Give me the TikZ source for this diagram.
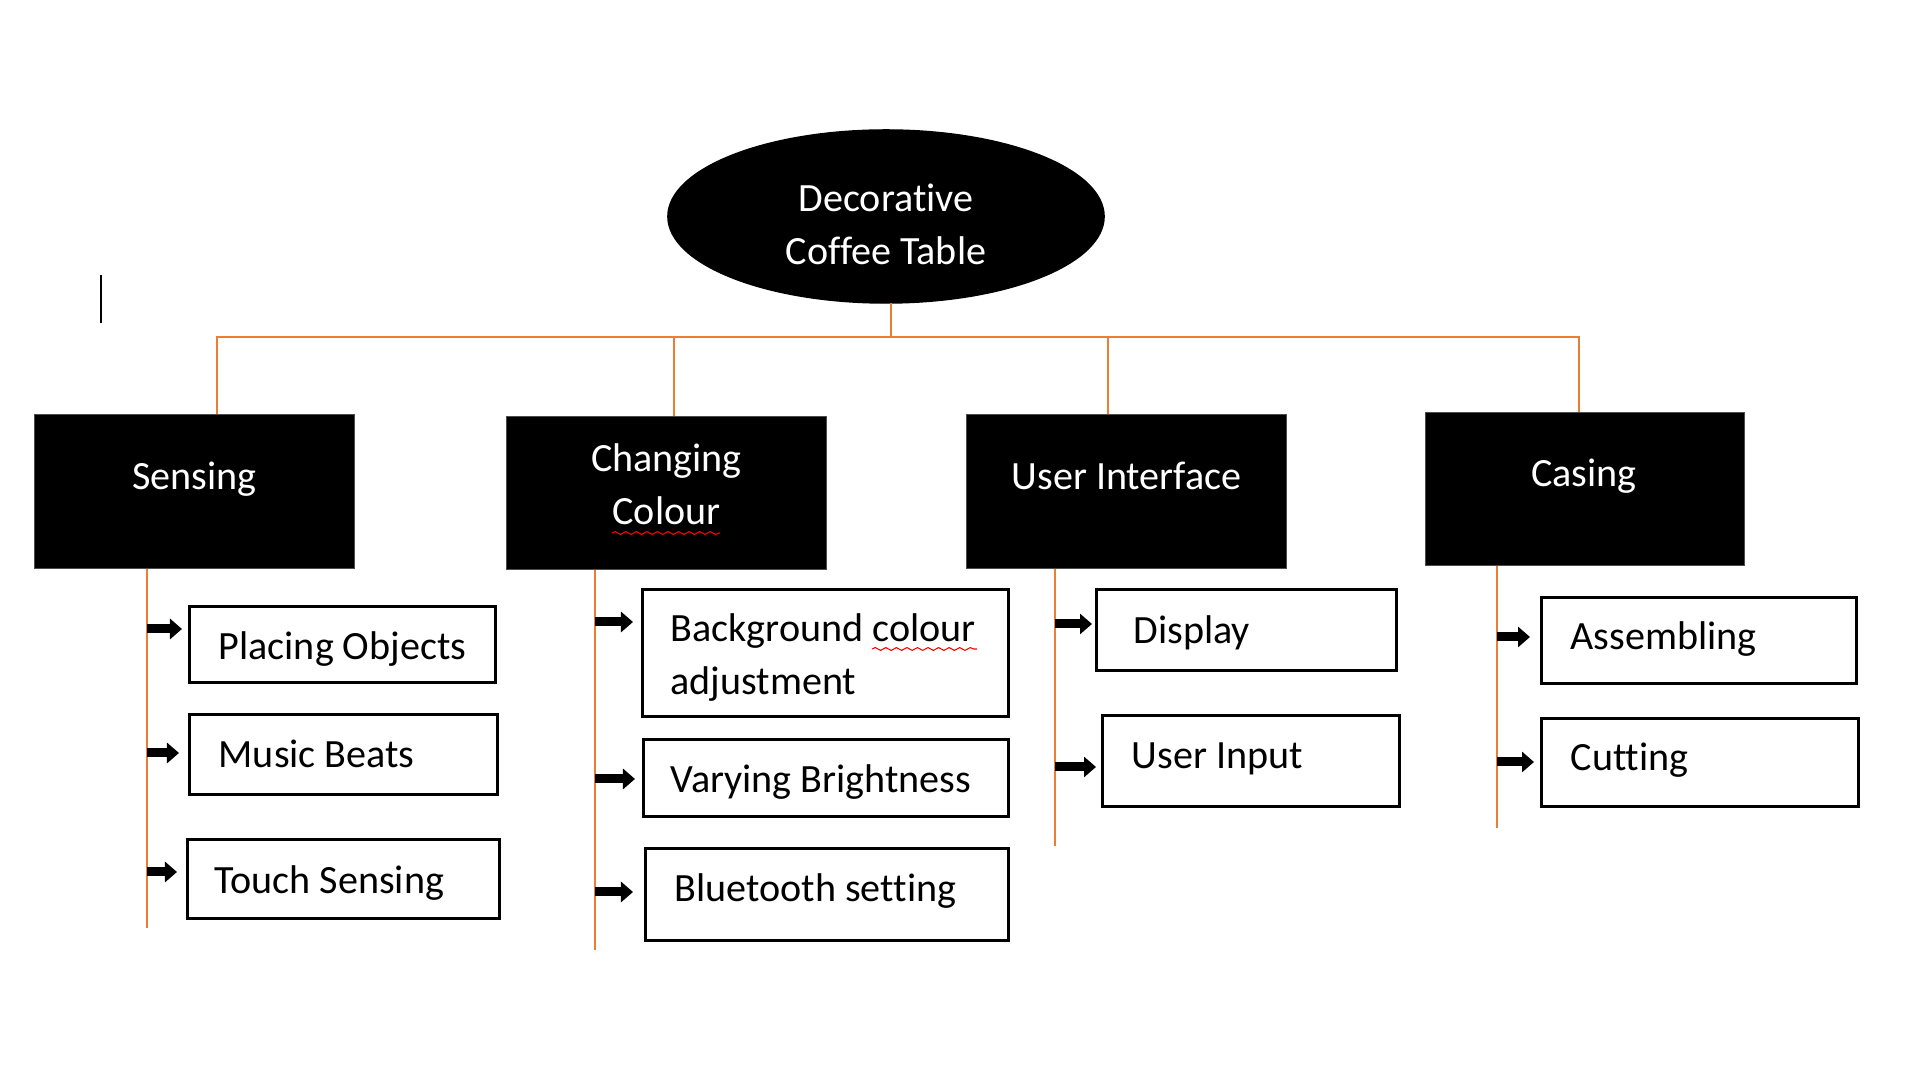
\documentclass[tikz,border=0pt]{standalone}
\usepackage{fontspec}
\setmainfont{Carlito}[Ligatures=NoCommon]
\usetikzlibrary{shapes.geometric,arrows.meta,decorations.pathmorphing}
\definecolor{orng}{HTML}{ED7D31}
\begin{document}
\begin{tikzpicture}[x=0.01cm,y=-0.01cm,
  font=\fontsize{11.4pt}{15.2pt}\selectfont,
  catbox/.style={draw=black!70, line width=0.3pt, fill=black, inner sep=0, minimum width=3.19cm, minimum height=1.53cm},
  subbox/.style={draw=black, line width=0.85pt, fill=white, inner sep=0},
  cattxt/.style={text=white, anchor=base, inner sep=0, align=center},
  subtxt/.style={text=black, anchor=base west, inner sep=0, align=left},
  link/.style={draw=orng, line width=0.55pt},
  blockarrow/.style={draw=black, line width=0.09cm, -{Triangle[length=0.12cm,width=0.2cm]}},
  squig/.style={draw=red, line width=0.3pt, decorate, decoration={snake, amplitude=0.4pt, segment length=3pt}}
]
\fill[white] (0,0) rectangle (1920,1080);
\useasboundingbox (0,0) rectangle (1920,1080);

% text cursor
\coordinate (cur1) at (101,275);
\coordinate (cur2) at (101,323);
\draw[line width=0.4pt] (cur1) -- (cur2);

% root (multi-line nodes: base = last line baseline)
\node[ellipse, fill=black, draw=black, minimum width=4.36cm, minimum height=1.73cm, inner sep=0] (root) at (886,216.5) {};
\node[cattxt] (roott) at (886,264.5) {Decorative\\Coffee Table};

% category boxes
\node[catbox] (sens) at (194.5,491.5) {};
\node[catbox] (cc) at (666.5,493) {};
\node[catbox] (ui) at (1126.5,491.5) {};
\node[catbox] (cas) at (1585,489) {};
\node[cattxt] (senst) at (194.5,490) {Sensing};
\node[cattxt] (cct) at (666.5,525) {Changing\\Colour};
\node[cattxt] (uit) at (1126.5,489.5) {User Interface};
\node[cattxt] (cast) at (1584,487) {Casing};

% sub boxes
\node[subbox, minimum width=3.06cm, minimum height=0.76cm] (po) at (342.5,644.5) {};
\node[subbox, minimum width=3.08cm, minimum height=0.80cm] (mb) at (343.5,754.5) {};
\node[subbox, minimum width=3.12cm, minimum height=0.79cm] (ts) at (343.5,879) {};
\node[subbox, minimum width=3.66cm, minimum height=1.27cm] (bg) at (825.5,653) {};
\node[subbox, minimum width=3.65cm, minimum height=0.77cm] (vb) at (826,778) {};
\node[subbox, minimum width=3.63cm, minimum height=0.92cm] (bt) at (827,894.5) {};
\node[subbox, minimum width=3.00cm, minimum height=0.81cm] (di) at (1246.5,630) {};
\node[subbox, minimum width=2.97cm, minimum height=0.91cm] (uin) at (1251,761) {};
\node[subbox, minimum width=3.15cm, minimum height=0.86cm] (as) at (1699,640.5) {};
\node[subbox, minimum width=3.17cm, minimum height=0.88cm] (cu) at (1700,762.5) {};

\node[subtxt] (pot) at (218,659.5) {Placing Objects};
\node[subtxt] (mbt) at (218,767.5) {Music Beats};
\node[subtxt] (tst) at (214,893.5) {Touch Sensing};
\node[subtxt] (bgt) at (670,695) {Background colour\\adjustment};
\node[subtxt] (vbt) at (670,792.5) {Varying Brightness};
\node[subtxt] (btt) at (674,901.5) {Bluetooth setting};
\node[subtxt] (dit) at (1133,643.5) {Display};
\node[subtxt] (uint) at (1131,768.5) {User Input};
\node[subtxt] (ast) at (1570,649.5) {Assembling};
\node[subtxt] (cut) at (1570,770.5) {Cutting};

% spell-check underlines
\coordinate (sq1a) at (612,533);
\coordinate (sq1b) at (720,533);
\coordinate (sq2a) at (872,649);
\coordinate (sq2b) at (977,649);
\draw[squig] (sq1a) -- (sq1b);
\draw[squig] (sq2a) -- (sq2b);

% orange tree lines
\coordinate (hl) at (216,337);
\coordinate (hr) at (1580,337);
\coordinate (stem) at (891,303);
\draw[link] (stem) -- (stem |- hl);
\draw[link] (hl) -- (hr);
\coordinate (d1) at (217,337);
\coordinate (d2) at (674,337);
\coordinate (d3) at (1108,337);
\coordinate (d4) at (1579,337);
\draw[link] (d1) -- (d1 |- sens.north);
\draw[link] (d2) -- (d2 |- cc.north);
\draw[link] (d3) -- (d3 |- ui.north);
\draw[link] (d4) -- (d4 |- cas.north);

\coordinate (t1) at (147,928);
\coordinate (t2) at (595,950);
\coordinate (t3) at (1055,846);
\coordinate (t4) at (1497,828);
\draw[link] (t1 |- sens.south) -- (t1);
\draw[link] (t2 |- cc.south) -- (t2);
\draw[link] (t3 |- ui.south) -- (t3);
\draw[link] (t4 |- cas.south) -- (t4);

% block arrows
\coordinate (a1s) at (147,629);  \coordinate (a1e) at (182,629);
\coordinate (a2s) at (147,753);  \coordinate (a2e) at (179,753);
\coordinate (a3s) at (147,872);  \coordinate (a3e) at (177,872);
\coordinate (a4s) at (595,622);  \coordinate (a4e) at (633,622);
\coordinate (a5s) at (595,779);  \coordinate (a5e) at (635,779);
\coordinate (a6s) at (595,892);  \coordinate (a6e) at (633,892);
\coordinate (a7s) at (1055,624); \coordinate (a7e) at (1092,624);
\coordinate (a8s) at (1055,767); \coordinate (a8e) at (1096,767);
\coordinate (a9s) at (1497,637); \coordinate (a9e) at (1530,637);
\coordinate (a10s) at (1497,762); \coordinate (a10e) at (1534,762);
\foreach \i in {1,...,10} {\draw[blockarrow] (a\i s) -- (a\i e);}
\end{tikzpicture}
\end{document}
